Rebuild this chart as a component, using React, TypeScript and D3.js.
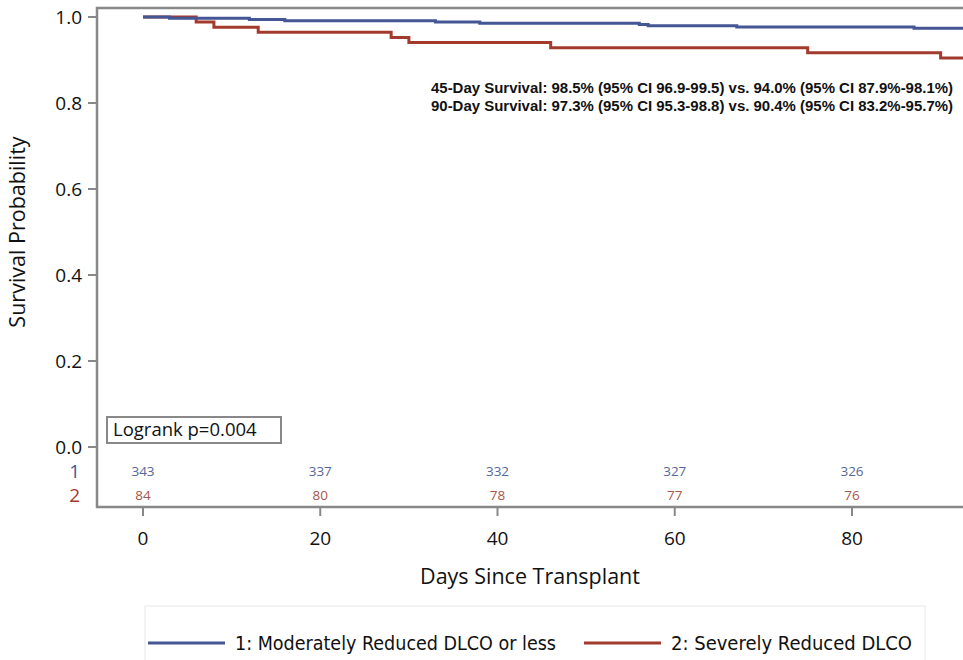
import React from "react";
import * as d3 from "d3";

// Kaplan-Meier step points (day, survival)
const blueTimes = [0, 3, 12, 16, 33, 38, 56, 57, 67, 87, 95];
const blueSurv = [1, 0.9971, 0.9942, 0.9913, 0.9883, 0.9854, 0.9825, 0.9796, 0.9767, 0.9738, 0.9738];
const redTimes = [0, 6, 8, 13, 28, 30, 46, 75, 90, 95];
const redSurv = [1, 0.9881, 0.9762, 0.9643, 0.9524, 0.9405, 0.9286, 0.9167, 0.9048, 0.9048];

const riskDays = [0, 20, 40, 60, 80];
const riskBlue = [343, 337, 332, 327, 326];
const riskRed = [84, 80, 78, 77, 76];

const yTicks = [0, 0.2, 0.4, 0.6, 0.8, 1.0];
const xTicks = [0, 20, 40, 60, 80];

const groupLabels = ["1: Moderately Reduced DLCO or less", "2: Severely Reduced DLCO"];
const statLines = [
  "45-Day Survival: 98.5% (95% CI 96.9-99.5) vs. 94.0% (95% CI 87.9%-98.1%)",
  "90-Day Survival: 97.3% (95% CI 95.3-98.8) vs. 90.4% (95% CI 83.2%-95.7%)",
];

const BLUE = "#445694";
const RED = "#A23A2E";
const AXIS = "#888888";
const FONT = "'Open Sans', 'DejaVu Sans', sans-serif";

export default function App() {
  const width = 963;
  const height = 660;
  const frame = { left: 97, top: 8, right: 990, bottom: 507 };

  const x = d3.scaleLinear().domain([0, 80]).range([143, 852]);
  const y = d3.scaleLinear().domain([0, 1]).range([447, 17]);

  const line = d3
    .line<[number, number]>()
    .x((d) => x(d[0]))
    .y((d) => y(d[1]))
    .curve(d3.curveStepAfter);

  const bluePts = blueTimes.map((t, i) => [t, blueSurv[i]] as [number, number]);
  const redPts = redTimes.map((t, i) => [t, redSurv[i]] as [number, number]);

  return (
    <svg width={width} height={height} style={{ display: "block", position: "absolute", left: 0, top: 0 }}>
      <rect width={width} height={height} fill="#fff" />
      <defs>
        <clipPath id="plotClip">
          <rect x={frame.left} y={frame.top} width={frame.right - frame.left} height={frame.bottom - frame.top} />
        </clipPath>
      </defs>

      {/* curves */}
      <g clipPath="url(#plotClip)" fill="none" strokeWidth={3}>
        <path d={line(redPts) || ""} stroke={RED} />
        <path d={line(bluePts) || ""} stroke={BLUE} />
      </g>

      {/* frame */}
      <rect
        x={frame.left}
        y={frame.top}
        width={frame.right - frame.left}
        height={frame.bottom - frame.top}
        fill="none"
        stroke={AXIS}
        strokeWidth={2.5}
      />

      {/* y axis */}
      {yTicks.map((t) => (
        <g key={t}>
          <line x1={frame.left - 9} x2={frame.left} y1={y(t)} y2={y(t)} stroke={AXIS} strokeWidth={2} />
          <text x={82} y={y(t)} dy="0.35em" textAnchor="end" fontFamily={FONT} fontSize={19} fill="#111">
            {t.toFixed(1)}
          </text>
        </g>
      ))}
      <text
        transform={`translate(25,232) rotate(-90)`}
        textAnchor="middle"
        fontFamily={FONT}
        fontSize={21.5}
        fill="#111"
      >
        Survival Probability
      </text>

      {/* x axis */}
      {xTicks.map((t) => (
        <g key={t}>
          <line x1={x(t)} x2={x(t)} y1={frame.bottom} y2={frame.bottom + 9} stroke={AXIS} strokeWidth={2} />
          <text x={x(t)} y={545} textAnchor="middle" fontFamily={FONT} fontSize={19} fill="#111">
            {t}
          </text>
        </g>
      ))}
      <text x={530} y={584} textAnchor="middle" fontFamily={FONT} fontSize={21.5} fill="#111">
        Days Since Transplant
      </text>

      {/* at-risk table */}
      <text x={80} y={471} dy="0.35em" textAnchor="end" fontFamily={FONT} fontSize={19} fill={BLUE}>1</text>
      <text x={80} y={495} dy="0.35em" textAnchor="end" fontFamily={FONT} fontSize={19} fill={RED}>2</text>
      {riskDays.map((d, i) => (
        <g key={d} fontFamily={FONT} fontSize={13.5} textAnchor="middle">
          <text x={x(d)} y={471} dy="0.35em" fill="#56669a">{riskBlue[i]}</text>
          <text x={x(d)} y={495} dy="0.35em" fill="#a8564c">{riskRed[i]}</text>
        </g>
      ))}

      {/* logrank box */}
      <rect x={107} y={417} width={174} height={26} fill="#fff" stroke={AXIS} strokeWidth={2} />
      <text x={113} y={430} dy="0.35em" fontFamily={FONT} fontSize={18.5} fill="#111">
        Logrank p=0.004
      </text>

      {/* survival stats */}
      {statLines.map((s, i) => (
        <text
          key={i}
          x={953}
          y={93 + i * 18}
          textAnchor="end"
          fontFamily="'Liberation Sans', Arial, sans-serif"
          fontWeight="bold"
          fontSize={14.5}
          textLength={522}
          lengthAdjust="spacingAndGlyphs"
          fill="#111"
        >
          {s}
        </text>
      ))}

      {/* legend */}
      <rect x={145} y={606} width={780} height={60} fill="none" stroke="#f0f0f0" strokeWidth={1.5} />
      {[BLUE, RED].map((c, i) => {
        const lx = i === 0 ? 148 : 584;
        return (
          <g key={i}>
            <line x1={lx} x2={lx + 77} y1={643} y2={643} stroke={c} strokeWidth={3} />
            <text
              x={lx + 87}
              y={643}
              dy="0.35em"
              fontFamily="'Liberation Sans Narrow', 'DejaVu Sans Condensed', sans-serif"
              fontSize={19}
              textLength={i === 0 ? 321 : 241}
              lengthAdjust="spacingAndGlyphs"
              fill="#111"
            >
              {groupLabels[i]}
            </text>
          </g>
        );
      })}
    </svg>
  );
}
